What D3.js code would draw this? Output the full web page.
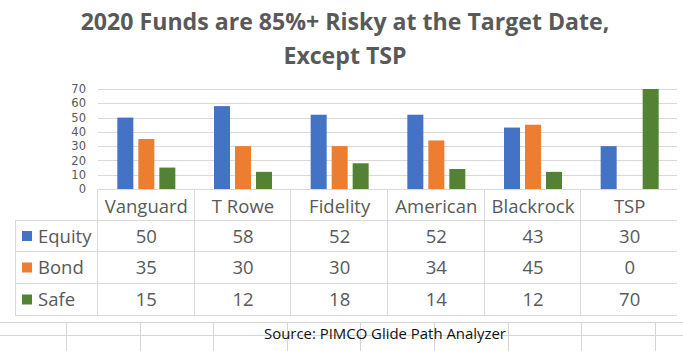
<!DOCTYPE html>
<html><head><meta charset="utf-8">
<script src="https://cdn.jsdelivr.net/npm/d3@7"></script>
<style>body{margin:0;background:#fff;}svg{display:block;}</style>
</head><body>
<svg id="c" width="683" height="351"></svg>
<script>
const categories = ["Vanguard","T Rowe","Fidelity","American","Blackrock","TSP"];
const seriesNames = ["Equity","Bond","Safe"];
const equity = [50,58,52,52,43,30];
const bond = [35,30,30,34,45,0];
const safe = [15,12,18,14,12,70];
const yTicks = [0,10,20,30,40,50,60,70];
const colors = ["#4472C4","#ED7D31","#548235"];
const titleLines = ["2020 Funds are 85%+ Risky at the Target Date,","Except TSP"];
const sourceText = "Source: PIMCO Glide Path Analyzer";

(function(){
const values = [equity, bond, safe];
const svg = d3.select("#c");
const font = "'Open Sans', sans-serif";
const pLeft = 98, pRight = 678, pTop = 89, pBase = 189;

const x = d3.scaleBand().domain(categories).range([pLeft, pRight]).padding(0);
const y = d3.scaleLinear().domain([0,70]).range([pBase, pTop]);
const x1 = d3.scaleBand().domain(seriesNames).range([-29, 29]).paddingInner(0.238).paddingOuter(0);

// Excel sheet gridlines at bottom
const sheetCols = d3.range(9).map(i => 66 + i*73.6);
const g0 = svg.append("g").attr("stroke","#d4d4d4").attr("stroke-width",1);
[322.5, 335.5].forEach(yy => g0.append("line").attr("x1",0).attr("x2",683).attr("y1",yy).attr("y2",yy));
sheetCols.forEach(xx => g0.append("line").attr("x1",Math.round(xx)+0.5).attr("x2",Math.round(xx)+0.5).attr("y1",322).attr("y2",351));

const src = svg.append("text").attr("x",385).attr("y",339).attr("text-anchor","middle")
  .attr("font-family","'Open Sans', sans-serif").attr("font-size",14).attr("fill","#111")
  .text(sourceText);
{
  const w = src.node().getComputedTextLength();
  src.attr("font-size", 14 * 242 / w);
}

// Title
const tg = svg.append("g");
titleLines.forEach((t,i) => {
  tg.append("text").attr("x",345).attr("y",i===0?30:64).attr("text-anchor","middle")
    .attr("font-family",font).attr("font-weight","bold").attr("font-size",22).attr("fill","#595959").text(t);
});
{
  const first = tg.select("text").node();
  const w = first.getComputedTextLength();
  const fs = 22 * 529 / w;
  tg.selectAll("text").attr("font-size", fs);
}

// gridlines
svg.append("g").selectAll("line").data(yTicks.slice(1)).join("line")
  .attr("x1",pLeft).attr("x2",pRight-1).attr("y1",d=>Math.round(y(d))+0.5).attr("y2",d=>Math.round(y(d))+0.5)
  .attr("stroke","#d9d9d9");

// y axis labels
const ya = svg.append("g").attr("transform",`translate(${pLeft-12},0)`)
  .call(d3.axisLeft(y).tickValues(yTicks).tickSize(0).tickPadding(0));
ya.select(".domain").remove();
ya.selectAll("text").attr("font-family","'DejaVu Sans', sans-serif").attr("font-size",11.5).attr("fill","#595959");

// bars
const groups = svg.append("g").selectAll("g").data(categories).join("g")
  .attr("transform", d => `translate(${x(d)+x.bandwidth()/2},0)`);
groups.selectAll("rect").data((c,ci) => seriesNames.map((s,si) => ({s, si, v: values[si][ci]})))
  .join("rect")
  .attr("x", d => x1(d.s)).attr("width", x1.bandwidth())
  .attr("y", d => y(d.v)).attr("height", d => y(0) - y(d.v))
  .attr("fill", d => colors[d.si]);

// table
const rowTops = [189.5, 220.5, 251.5, 283.5, 315.5];
const tl = svg.append("g").attr("stroke","#d9d9d9").attr("stroke-width",1).attr("fill","none");
tl.append("line").attr("x1",pLeft).attr("x2",pRight-1).attr("y1",rowTops[0]).attr("y2",rowTops[0]);
rowTops.slice(1).forEach(yy => tl.append("line").attr("x1",15).attr("x2",pRight-1).attr("y1",yy).attr("y2",yy));
tl.append("line").attr("x1",15.5).attr("x2",15.5).attr("y1",rowTops[1]).attr("y2",rowTops[4]);
categories.forEach(c => {
  const sx = x(c);
  tl.append("line").attr("x1",Math.round(sx)-0.5).attr("x2",Math.round(sx)-0.5)
    .attr("y1",rowTops[0]).attr("y2",rowTops[4]);
});

const fsTable = 18.5;
// category labels
svg.append("g").selectAll("text").data(categories).join("text")
  .attr("x", d => x(d)+x.bandwidth()/2).attr("y", 213).attr("text-anchor","middle")
  .attr("font-family",font).attr("font-size",fsTable).attr("fill","#595959").text(d=>d);

// rows
seriesNames.forEach((s,si) => {
  const cy = (rowTops[si+1] + rowTops[si+2]) / 2;
  svg.append("rect").attr("x",22).attr("y",cy-5).attr("width",10).attr("height",10).attr("fill",colors[si]);
  svg.append("text").attr("x",38).attr("y",cy+6.5).attr("font-family",font).attr("font-size",fsTable)
    .attr("fill","#595959").text(s);
  svg.append("g").selectAll("text").data(categories).join("text")
    .attr("x", d => x(d)+x.bandwidth()/2).attr("y", cy+6.5).attr("text-anchor","middle")
    .attr("font-family",font).attr("font-size",fsTable).attr("fill","#595959")
    .text((d,ci) => values[si][ci]);
});
})();
</script>
</body></html>
